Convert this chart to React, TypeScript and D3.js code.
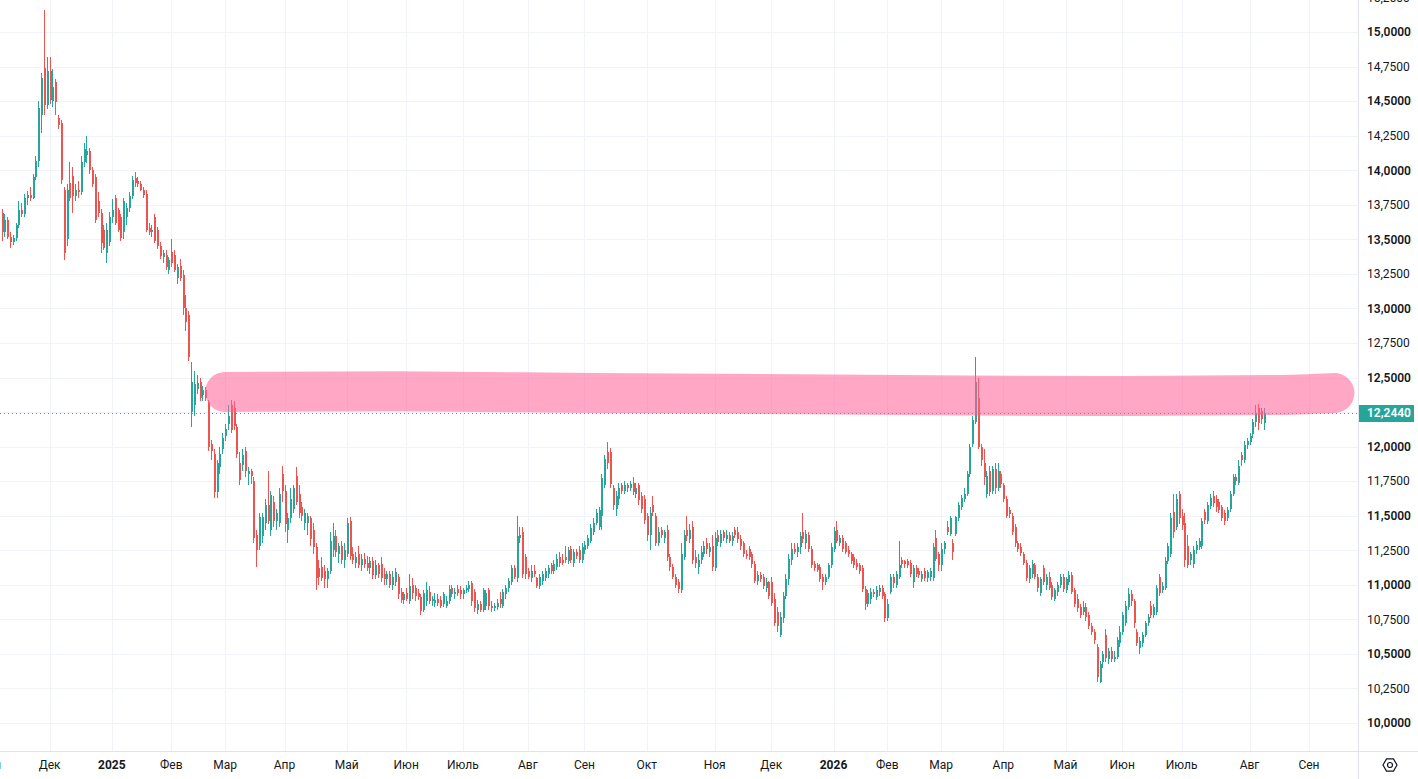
import { useEffect, useRef } from 'react';
import * as d3 from 'd3';

type Candle = [number, number, number, number]; // open, high, low, close

const W = 1418;
const H = 779;

// daily bars (o, h, l, c)
const candles: Candle[] = [
  [13.69,13.72,13.49,13.55],[13.55,13.68,13.52,13.64],[13.64,13.66,13.50,13.52],[13.52,13.55,13.44,13.48],
  [13.48,13.53,13.46,13.51],[13.51,13.62,13.49,13.60],[13.60,13.78,13.58,13.71],[13.71,13.76,13.66,13.68],
  [13.68,13.83,13.66,13.80],[13.80,13.85,13.75,13.82],[13.82,13.88,13.78,13.80],[13.80,13.97,13.79,13.95],
  [13.95,14.10,13.93,14.07],[14.07,14.50,14.02,14.45],[14.40,14.70,14.27,14.67],[14.74,15.16,14.40,14.47],
  [14.47,14.82,14.44,14.72],[14.72,14.82,14.48,14.51],[14.50,14.73,14.46,14.60],[14.64,14.66,14.40,14.49],
  [14.38,14.40,14.30,14.33],[14.34,14.36,13.90,13.93],[13.86,13.88,13.35,13.40],[13.50,13.90,13.45,13.86],
  [13.91,14.06,13.78,13.80],[13.96,14.02,13.69,13.81],[13.81,13.90,13.78,13.86],[13.86,13.92,13.80,13.84],
  [13.84,14.10,13.82,14.06],[14.06,14.20,14.02,14.15],[14.11,14.25,14.05,14.14],[14.14,14.16,13.97,14.00],
  [14.00,14.02,13.88,13.90],[13.95,13.97,13.62,13.64],[13.78,13.84,13.66,13.69],[13.69,13.72,13.40,13.47],
  [13.57,13.60,13.42,13.44],[13.40,13.62,13.33,13.57],[13.48,13.70,13.45,13.66],[13.66,13.79,13.62,13.71],
  [13.80,13.82,13.60,13.62],[13.71,13.73,13.55,13.57],[13.66,13.68,13.49,13.51],[13.55,13.80,13.50,13.78],
  [13.66,13.76,13.60,13.73],[13.73,13.84,13.70,13.81],[13.81,13.96,13.79,13.93],[13.94,13.99,13.88,13.91],
  [13.92,13.95,13.88,13.90],[13.90,13.92,13.85,13.86],[13.86,13.88,13.80,13.82],[13.83,13.86,13.55,13.57],
  [13.58,13.62,13.53,13.55],[13.55,13.60,13.52,13.57],[13.66,13.68,13.47,13.49],[13.57,13.59,13.43,13.45],
  [13.45,13.48,13.36,13.38],[13.37,13.42,13.33,13.40],[13.39,13.42,13.28,13.30],[13.28,13.37,13.25,13.35],
  [13.41,13.50,13.30,13.33],[13.39,13.42,13.26,13.28],[13.22,13.32,13.18,13.30],[13.31,13.36,13.20,13.22],
  [13.24,13.28,12.95,13.00],[13.00,13.10,12.84,12.90],[12.95,12.98,12.62,12.65],[12.25,12.61,12.14,12.47],
  [12.30,12.55,12.22,12.45],[12.42,12.52,12.38,12.46],[12.47,12.50,12.33,12.35],[12.37,12.44,12.33,12.41],
  [12.41,12.43,12.33,12.35],[12.32,12.34,11.97,12.00],[12.02,12.05,11.90,11.97],[11.95,11.98,11.63,11.67],
  [11.67,11.90,11.63,11.88],[11.85,12.00,11.80,11.95],[11.98,12.10,11.95,12.06],[12.08,12.16,12.04,12.13],
  [12.16,12.30,12.12,12.22],[12.30,12.34,12.10,12.12],[12.28,12.33,12.12,12.15],[12.14,12.16,11.92,11.95],
  [11.88,11.96,11.72,11.76],[11.87,11.98,11.82,11.94],[11.97,12.00,11.78,11.82],[11.80,11.85,11.72,11.82],
  [11.82,11.84,11.73,11.79],[11.75,11.78,11.30,11.34],[11.36,11.40,11.13,11.25],[11.28,11.52,11.25,11.49],
  [11.35,11.52,11.30,11.49],[11.45,11.62,11.40,11.58],[11.58,11.82,11.44,11.46],[11.40,11.68,11.35,11.65],
  [11.60,11.64,11.42,11.46],[11.46,11.55,11.40,11.52],[11.45,11.70,11.42,11.66],[11.80,11.86,11.60,11.68],
  [11.68,11.72,11.38,11.44],[11.40,11.52,11.30,11.48],[11.48,11.70,11.45,11.62],[11.55,11.72,11.52,11.70],
  [11.79,11.85,11.58,11.60],[11.66,11.72,11.48,11.52],[11.56,11.60,11.46,11.50],[11.45,11.55,11.40,11.52],
  [11.45,11.52,11.36,11.50],[11.48,11.50,11.28,11.33],[11.40,11.45,11.22,11.27],[11.27,11.30,10.96,11.05],
  [11.12,11.18,11.00,11.06],[11.13,11.20,11.03,11.05],[11.10,11.14,10.98,11.04],[11.04,11.12,10.98,11.10],
  [11.10,11.38,11.08,11.32],[11.25,11.45,11.20,11.35],[11.35,11.40,11.20,11.24],[11.22,11.30,11.16,11.28],
  [11.28,11.32,11.15,11.18],[11.18,11.30,11.12,11.25],[11.22,11.48,11.20,11.45],[11.46,11.49,11.18,11.21],
  [11.22,11.27,11.15,11.18],[11.16,11.24,11.12,11.20],[11.22,11.28,11.12,11.14],[11.14,11.22,11.10,11.19],
  [11.19,11.23,11.12,11.15],[11.16,11.21,11.10,11.12],[11.12,11.20,11.08,11.17],[11.17,11.20,11.04,11.07],
  [11.07,11.18,11.04,11.14],[11.14,11.16,11.05,11.08],[11.15,11.20,11.02,11.05],[11.08,11.12,11.00,11.04],
  [11.04,11.10,11.00,11.08],[11.08,11.10,10.98,11.00],[11.00,11.10,10.96,11.06],[11.02,11.12,10.99,11.09],
  [11.06,11.08,10.90,10.93],[10.95,10.98,10.87,10.89],[10.89,10.95,10.86,10.93],[10.94,10.98,10.88,10.90],
  [10.88,11.08,10.86,10.99],[11.00,11.05,10.90,10.94],[10.98,11.00,10.88,10.92],[10.94,10.97,10.89,10.91],
  [10.91,10.93,10.78,10.81],[10.82,10.96,10.80,10.94],[10.88,11.02,10.85,10.96],[10.95,10.99,10.86,10.88],
  [10.88,10.92,10.85,10.90],[10.87,10.94,10.84,10.89],[10.90,10.93,10.85,10.87],[10.89,10.92,10.83,10.85],
  [10.86,10.95,10.84,10.93],[10.85,10.92,10.83,10.88],[10.88,11.00,10.86,10.97],[10.98,11.00,10.91,10.93],
  [10.93,10.98,10.90,10.95],[10.97,11.00,10.92,10.94],[10.96,10.99,10.90,10.93],[10.93,10.98,10.90,10.96],
  [10.96,11.00,10.94,10.98],[10.97,11.03,10.95,11.00],[11.01,11.03,10.85,10.88],[10.95,10.97,10.80,10.83],
  [10.82,10.89,10.79,10.86],[10.86,10.88,10.80,10.82],[10.82,10.98,10.80,10.96],[10.85,10.96,10.82,10.94],
  [10.96,10.98,10.82,10.85],[10.85,10.88,10.80,10.83],[10.83,10.87,10.81,10.85],[10.84,10.90,10.82,10.87],
  [10.90,10.95,10.83,10.86],[10.85,10.97,10.83,10.95],[10.93,11.00,10.90,10.98],[10.98,11.05,10.95,11.03],
  [11.02,11.14,11.00,11.12],[11.12,11.14,11.04,11.06],[11.05,11.50,11.02,11.35],[11.34,11.42,11.30,11.36],
  [11.38,11.42,11.05,11.08],[11.20,11.22,11.04,11.08],[11.10,11.12,11.04,11.06],[11.05,11.14,11.02,11.10],
  [11.10,11.14,11.06,11.08],[11.05,11.06,10.98,10.99],[10.99,11.08,10.97,11.06],[11.03,11.10,11.00,11.08],
  [11.05,11.12,11.03,11.10],[11.08,11.14,11.05,11.12],[11.14,11.16,11.08,11.10],[11.10,11.18,11.08,11.15],
  [11.13,11.22,11.11,11.19],[11.20,11.24,11.13,11.16],[11.18,11.22,11.14,11.16],[11.20,11.28,11.16,11.18],
  [11.17,11.27,11.15,11.25],[11.26,11.28,11.16,11.18],[11.16,11.26,11.13,11.24],[11.24,11.26,11.19,11.21],
  [11.25,11.28,11.16,11.18],[11.18,11.30,11.16,11.27],[11.25,11.32,11.22,11.29],[11.28,11.36,11.26,11.34],
  [11.32,11.44,11.30,11.41],[11.38,11.48,11.36,11.45],[11.45,11.55,11.43,11.52],[11.42,11.56,11.40,11.54],
  [11.50,11.80,11.40,11.77],[11.72,11.94,11.70,11.91],[11.96,12.03,11.84,11.88],[11.96,11.99,11.70,11.73],
  [11.70,11.72,11.54,11.58],[11.55,11.68,11.50,11.64],[11.62,11.74,11.58,11.70],[11.72,11.74,11.66,11.68],
  [11.68,11.75,11.66,11.72],[11.72,11.74,11.67,11.70],[11.70,11.75,11.68,11.73],[11.74,11.78,11.65,11.67],
  [11.66,11.74,11.63,11.70],[11.72,11.74,11.58,11.61],[11.64,11.67,11.52,11.55],[11.62,11.65,11.44,11.47],
  [11.50,11.52,11.32,11.36],[11.36,11.56,11.25,11.52],[11.58,11.64,11.50,11.53],[11.50,11.52,11.28,11.30],
  [11.30,11.42,11.28,11.38],[11.40,11.42,11.34,11.36],[11.34,11.40,11.30,11.38],[11.40,11.43,11.17,11.20],
  [11.20,11.22,11.10,11.13],[11.13,11.15,11.04,11.06],[11.06,11.08,10.98,11.00],[11.02,11.04,10.94,10.97],
  [10.96,11.30,10.94,11.22],[11.20,11.40,11.18,11.36],[11.40,11.50,11.32,11.35],[11.33,11.44,11.30,11.40],
  [11.42,11.46,11.15,11.18],[11.20,11.25,11.12,11.16],[11.13,11.22,11.08,11.18],[11.18,11.28,11.15,11.24],
  [11.22,11.32,11.20,11.28],[11.30,11.34,11.22,11.26],[11.24,11.30,11.20,11.27],[11.28,11.36,11.10,11.13],
  [11.12,11.38,11.10,11.34],[11.36,11.40,11.28,11.31],[11.30,11.40,11.27,11.37],[11.38,11.40,11.32,11.34],
  [11.33,11.40,11.30,11.36],[11.36,11.38,11.30,11.32],[11.32,11.38,11.28,11.35],[11.40,11.42,11.34,11.36],
  [11.38,11.42,11.30,11.33],[11.33,11.36,11.25,11.28],[11.30,11.32,11.20,11.22],[11.22,11.25,11.19,11.21],
  [11.26,11.28,11.18,11.20],[11.22,11.24,11.12,11.15],[11.15,11.17,11.01,11.03],[11.03,11.10,11.00,11.07],
  [11.07,11.09,11.02,11.04],[11.06,11.08,10.97,10.99],[10.98,11.05,10.95,11.02],[11.02,11.03,10.90,10.92],
  [11.02,11.06,10.85,10.87],[10.90,10.94,10.70,10.72],[10.80,10.84,10.66,10.70],[10.64,10.80,10.62,10.77],
  [10.76,10.95,10.72,10.92],[10.92,11.08,10.90,11.04],[11.04,11.22,11.00,11.19],[11.18,11.30,11.14,11.26],
  [11.26,11.30,11.22,11.24],[11.24,11.30,11.20,11.27],[11.27,11.38,11.22,11.35],[11.38,11.52,11.30,11.33],
  [11.30,11.40,11.26,11.37],[11.36,11.38,11.24,11.26],[11.26,11.28,11.12,11.14],[11.15,11.17,11.10,11.12],
  [11.14,11.16,11.09,11.11],[11.13,11.15,11.02,11.04],[11.06,11.08,10.96,11.02],[11.02,11.08,11.00,11.06],
  [11.06,11.16,11.04,11.14],[11.14,11.30,11.12,11.27],[11.26,11.42,11.24,11.39],[11.40,11.46,11.30,11.32],
  [11.30,11.36,11.28,11.34],[11.34,11.36,11.24,11.26],[11.30,11.32,11.22,11.24],[11.25,11.28,11.20,11.22],
  [11.22,11.24,11.15,11.17],[11.20,11.22,11.12,11.14],[11.16,11.19,11.11,11.13],[11.14,11.16,11.08,11.10],
  [11.12,11.14,10.95,10.97],[10.97,10.99,10.82,10.86],[10.86,10.96,10.84,10.94],[10.90,10.98,10.86,10.95],
  [10.95,10.97,10.91,10.93],[10.91,10.99,10.89,10.96],[10.95,11.00,10.92,10.98],[10.98,11.00,10.90,10.92],
  [10.93,10.95,10.73,10.76],[10.76,10.90,10.74,10.86],[10.95,11.08,10.93,11.06],[11.06,11.08,10.98,11.01],
  [11.00,11.10,10.98,11.08],[11.06,11.32,11.04,11.14],[11.18,11.20,11.12,11.15],[11.17,11.18,11.12,11.15],
  [11.17,11.19,11.12,11.14],[11.16,11.18,11.06,11.08],[11.02,11.14,10.98,11.12],[11.12,11.14,11.06,11.08],
  [11.10,11.12,11.05,11.07],[11.04,11.10,11.02,11.08],[11.10,11.12,11.03,11.05],[11.05,11.11,11.02,11.09],
  [11.06,11.12,11.03,11.10],[11.05,11.30,11.03,11.27],[11.34,11.40,11.17,11.19],[11.22,11.24,11.10,11.14],
  [11.14,11.30,11.10,11.26],[11.26,11.32,11.22,11.30],[11.42,11.46,11.36,11.38],[11.37,11.50,11.35,11.48],
  [11.30,11.33,11.18,11.24],[11.37,11.50,11.35,11.49],[11.48,11.60,11.46,11.58],[11.56,11.65,11.54,11.63],
  [11.62,11.70,11.60,11.66],[11.66,11.82,11.64,11.80],[11.80,12.02,11.78,12.00],[12.02,12.22,12.00,12.19],
  [12.18,12.65,12.16,12.47],[12.35,12.50,11.98,12.00],[12.00,12.02,11.86,11.90],[11.88,11.98,11.72,11.78],
  [11.66,11.82,11.63,11.79],[11.82,11.86,11.64,11.67],[11.68,11.86,11.66,11.84],[11.84,11.88,11.66,11.70],
  [11.70,11.88,11.68,11.82],[11.80,11.82,11.70,11.73],[11.72,11.74,11.60,11.62],[11.62,11.64,11.48,11.50],
  [11.54,11.56,11.48,11.51],[11.50,11.52,11.36,11.38],[11.42,11.44,11.27,11.30],[11.30,11.32,11.24,11.26],
  [11.27,11.30,11.21,11.23],[11.22,11.24,11.14,11.16],[11.16,11.18,11.03,11.05],[11.04,11.14,11.01,11.12],
  [11.08,11.18,11.05,11.15],[11.14,11.16,11.04,11.06],[11.06,11.08,10.95,10.98],[10.94,11.06,10.92,11.04],
  [11.12,11.14,11.00,11.02],[11.00,11.08,10.96,11.06],[11.06,11.09,10.96,10.98],[11.00,11.02,10.89,10.91],
  [10.90,10.98,10.88,10.96],[10.95,11.02,10.92,11.00],[11.00,11.08,10.98,11.06],[11.06,11.08,10.95,10.97],
  [10.96,11.06,10.94,11.04],[11.02,11.10,11.00,11.07],[11.07,11.09,10.93,10.95],[10.96,10.98,10.84,10.86],
  [10.90,10.93,10.80,10.83],[10.84,10.86,10.76,10.78],[10.80,10.88,10.78,10.84],[10.84,10.87,10.74,10.77],
  [10.78,10.80,10.68,10.70],[10.70,10.72,10.64,10.66],[10.66,10.68,10.57,10.60],[10.55,10.57,10.30,10.33],
  [10.30,10.45,10.29,10.43],[10.44,10.52,10.40,10.50],[10.64,10.68,10.44,10.47],[10.46,10.54,10.43,10.52],
  [10.52,10.55,10.44,10.46],[10.46,10.52,10.44,10.48],[10.48,10.62,10.46,10.60],[10.58,10.70,10.55,10.66],
  [10.66,10.80,10.64,10.78],[10.72,10.88,10.70,10.85],[10.84,10.98,10.82,10.93],[10.93,10.96,10.85,10.88],
  [10.88,10.90,10.69,10.72],[10.66,10.68,10.56,10.58],[10.54,10.62,10.50,10.59],[10.58,10.66,10.55,10.64],
  [10.64,10.74,10.62,10.72],[10.72,10.79,10.70,10.77],[10.85,10.88,10.76,10.78],[10.78,10.86,10.76,10.84],
  [10.80,11.00,10.78,10.98],[11.06,11.08,10.92,10.94],[10.96,11.02,10.94,10.99],[10.98,11.20,10.96,11.17],
  [11.17,11.30,11.15,11.28],[11.22,11.52,11.20,11.48],[11.53,11.66,11.34,11.38],[11.42,11.66,11.40,11.62],
  [11.66,11.68,11.44,11.48],[11.50,11.55,11.40,11.43],[11.45,11.52,11.13,11.18],[11.28,11.36,11.12,11.14],
  [11.18,11.24,11.14,11.22],[11.15,11.28,11.12,11.25],[11.25,11.32,11.22,11.29],[11.27,11.34,11.25,11.32],
  [11.28,11.48,11.26,11.46],[11.53,11.55,11.44,11.47],[11.46,11.60,11.44,11.58],[11.57,11.66,11.55,11.63],
  [11.64,11.68,11.56,11.59],[11.62,11.65,11.53,11.56],[11.60,11.62,11.52,11.54],[11.56,11.58,11.46,11.48],
  [11.52,11.54,11.43,11.46],[11.48,11.56,11.46,11.54],[11.55,11.68,11.53,11.66],[11.66,11.80,11.64,11.78],
  [11.78,11.80,11.72,11.75],[11.74,11.90,11.72,11.86],[11.94,11.96,11.86,11.90],[11.90,12.04,11.88,12.01],
  [12.01,12.06,11.98,12.04],[12.03,12.10,12.01,12.08],[12.09,12.20,12.06,12.18],[12.18,12.30,12.14,12.24],
  [12.28,12.31,12.12,12.17],[12.26,12.28,12.16,12.20],[12.17,12.28,12.12,12.244],
];

const lastPrice = 12.244;

const priceTicks = [
  10, 10.25, 10.5, 10.75, 11, 11.25, 11.5, 11.75, 12, 12.25, 12.5, 12.75,
  13, 13.25, 13.5, 13.75, 14, 14.25, 14.5, 14.75, 15, 15.25,
];

const monthLabels = [
  'Ноя', 'Дек', '2025', 'Фев', 'Мар', 'Апр', 'Май', 'Июн', 'Июль', 'Авг', 'Сен', 'Окт',
  'Ноя', 'Дек', '2026', 'Фев', 'Мар', 'Апр', 'Май', 'Июн', 'Июль', 'Авг', 'Сен',
];
// bar index where each month starts
const monthBars = [
  -4, 17, 39, 60, 79, 100, 122, 143, 163, 186, 206, 228,
  252, 272, 294, 313, 332, 354, 376, 396, 417, 441, 462,
];

// hand-drawn highlight stroke, in (bar index, price)
const zoneBars = [79, 140, 210, 318, 388, 450, 471];
const zonePrices = [12.395, 12.4, 12.388, 12.373, 12.366, 12.373, 12.388];

const UP = '#26a69a';
const DOWN = '#ef5350';
const GRID = '#f0f3fa';
const BORDER = '#e0e3eb';
const TEXT = '#131722';
const FONT = 'Roboto, "Noto Sans", sans-serif';

const fmt = (v: number) => d3.format('.4f')(v).replace('.', ',');

export default function App() {
  const svgRef = useRef<SVGSVGElement | null>(null);

  useEffect(() => {
    const svgEl = svgRef.current;
    if (!svgEl) return;
    const svg = d3.select(svgEl);
    svg.selectAll('*').remove();

    const plotR = 1358;
    const plotB = 751;

    const x = d3.scaleLinear().domain([0, 446]).range([1.5, 1.5 + 2.83 * 446]);
    const y = d3.scaleLinear().domain([10, 15]).range([723, 32]);

    svg
      .append('defs')
      .append('clipPath')
      .attr('id', 'plot')
      .append('rect')
      .attr('width', plotR)
      .attr('height', plotB);

    const plot = svg.append('g').attr('clip-path', 'url(#plot)');

    // grid
    plot
      .selectAll('line.h')
      .data(priceTicks)
      .join('line')
      .attr('x1', 0)
      .attr('x2', plotR)
      .attr('y1', (d) => Math.round(y(d)) + 0.5)
      .attr('y2', (d) => Math.round(y(d)) + 0.5)
      .attr('stroke', GRID);

    plot
      .selectAll('line.v')
      .data(monthBars)
      .join('line')
      .attr('x1', (d) => Math.round(x(d)) + 0.5)
      .attr('x2', (d) => Math.round(x(d)) + 0.5)
      .attr('y1', 0)
      .attr('y2', plotB)
      .attr('stroke', GRID);

    // candles
    const g = plot.append('g').attr('shape-rendering', 'crispEdges');
    candles.forEach(([o, h, l, c], i) => {
      const cx = Math.round(x(i));
      const col = c >= o ? UP : DOWN;
      g.append('rect')
        .attr('x', cx)
        .attr('y', y(h))
        .attr('width', 1)
        .attr('height', Math.max(1, y(l) - y(h)))
        .attr('fill', col);
      const top = y(Math.max(o, c));
      g.append('rect')
        .attr('x', cx - 0.5)
        .attr('y', top)
        .attr('width', 2)
        .attr('height', Math.max(1, y(Math.min(o, c)) - top))
        .attr('fill', col);
    });

    // last price dotted line
    plot
      .append('line')
      .attr('x1', 0)
      .attr('x2', plotR)
      .attr('y1', Math.round(y(lastPrice)) + 0.5)
      .attr('y2', Math.round(y(lastPrice)) + 0.5)
      .attr('stroke', UP)
      .attr('stroke-dasharray', '1,3');

    // pink highlight
    const zone = d3
      .line<number>()
      .x((_, i) => x(zoneBars[i]))
      .y((d) => y(d))
      .curve(d3.curveMonotoneX);
    plot
      .append('path')
      .attr('d', zone(zonePrices))
      .attr('fill', 'none')
      .attr('stroke', 'rgba(255,95,150,0.55)')
      .attr('stroke-width', 40)
      .attr('stroke-linecap', 'round');

    // borders
    svg
      .append('line')
      .attr('x1', plotR + 0.5)
      .attr('x2', plotR + 0.5)
      .attr('y1', 0)
      .attr('y2', H)
      .attr('stroke', BORDER);
    svg
      .append('line')
      .attr('x1', 0)
      .attr('x2', W)
      .attr('y1', plotB + 0.5)
      .attr('y2', plotB + 0.5)
      .attr('stroke', BORDER);

    // price axis
    svg
      .append('g')
      .selectAll('text')
      .data(priceTicks)
      .join('text')
      .attr('x', 1367)
      .attr('y', (d) => y(d))
      .attr('dy', '0.36em')
      .attr('font-family', FONT)
      .attr('font-size', 12)
      .attr('font-weight', (d) => (d % 0.5 === 0 ? 600 : 400))
      .attr('fill', TEXT)
      .text((d) => fmt(d));

    // last price tag
    const ly = y(lastPrice);
    svg
      .append('rect')
      .attr('x', plotR + 1)
      .attr('y', Math.round(ly) - 8)
      .attr('width', 55)
      .attr('height', 17)
      .attr('fill', UP);
    svg
      .append('text')
      .attr('x', 1367)
      .attr('y', ly)
      .attr('dy', '0.36em')
      .attr('font-family', FONT)
      .attr('font-size', 12)
      .attr('font-weight', 600)
      .attr('fill', '#fff')
      .text(fmt(lastPrice));

    // time axis
    svg
      .append('g')
      .selectAll('text')
      .data(monthLabels)
      .join('text')
      .attr('x', (_, i) => x(monthBars[i]))
      .attr('y', 769)
      .attr('text-anchor', 'middle')
      .attr('font-family', FONT)
      .attr('font-size', 12)
      .attr('font-weight', (d) => (/^\d+$/.test(d) ? 700 : 400))
      .attr('fill', TEXT)
      .text((d) => d);

    // settings glyph
    const gear = svg.append('g').attr('transform', 'translate(1390,765)');
    const hex = d3.range(6).map((k) => {
      const a = (Math.PI / 3) * k;
      return [7 * Math.cos(a), 7 * Math.sin(a)] as [number, number];
    });
    gear
      .append('path')
      .attr('d', d3.line()(hex) + 'Z')
      .attr('fill', 'none')
      .attr('stroke', TEXT)
      .attr('stroke-width', 1.2);
    gear
      .append('circle')
      .attr('r', 2.5)
      .attr('fill', 'none')
      .attr('stroke', TEXT)
      .attr('stroke-width', 1.2);
  }, []);

  return (
    <svg
      ref={svgRef}
      width={W}
      height={H}
      style={{ position: 'fixed', left: 0, top: 0, background: '#fff', display: 'block' }}
    />
  );
}
